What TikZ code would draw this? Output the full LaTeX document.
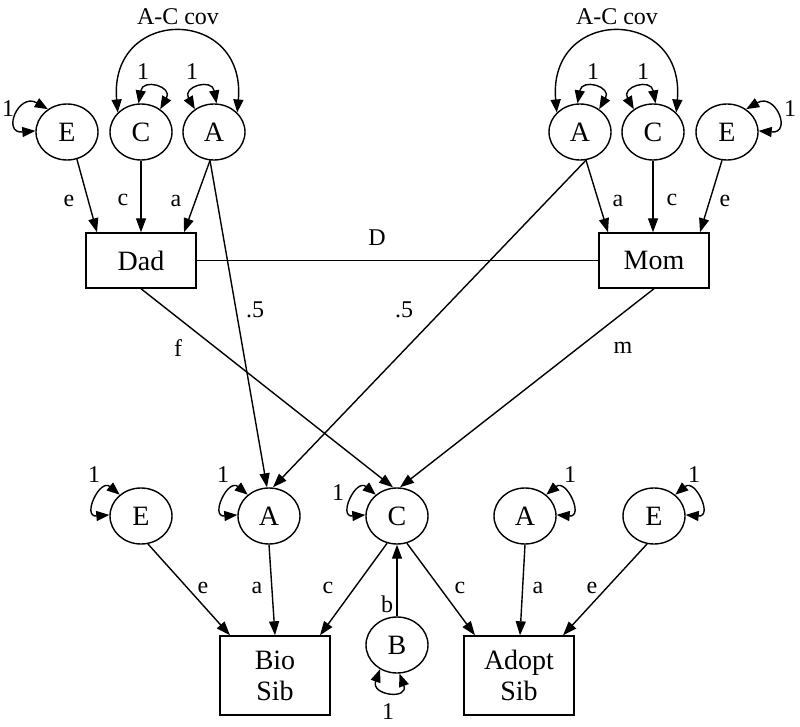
\documentclass[tikz,border=0pt]{standalone}
\usepackage{fontspec}
\setmainfont{Liberation Serif}
\usetikzlibrary{shapes.geometric,arrows.meta}
\begin{document}
\begin{tikzpicture}[x=1pt,y=1pt,
  lat/.style={ellipse,draw,line width=1.4pt,minimum width=62pt,minimum height=56pt,inner sep=0pt,font=\fontsize{28}{31}\selectfont},
  obs/.style={rectangle,draw,line width=1.4pt,minimum width=110pt,minimum height=55pt,inner sep=0pt,align=center,font=\fontsize{28}{31}\selectfont},
  sib/.style={obs,minimum height=79pt},
  lbl/.style={inner sep=0pt,font=\fontsize{24}{27}\selectfont},
  arr/.style={-{Triangle[length=14pt,width=10pt]},line width=1.4pt},
  dbl/.style={{Triangle[length=13pt,width=10pt]}-{Triangle[length=13pt,width=10pt]},line width=1.4pt},
  ln/.style={line width=1.4pt}
]
\useasboundingbox (0,0) rectangle (800,-727);

% parent latent variables
\node[lat] (eTL) at (67,-132) {E};
\node[lat] (cTL) at (141,-132) {C};
\node[lat] (aTL) at (214,-132) {A};
\node[lat] (aTR) at (580,-132) {A};
\node[lat] (cTR) at (653,-132) {C};
\node[lat] (eTR) at (727,-132) {E};

% parents
\node[obs] (dad) at (141,-260.5) {Dad};
\node[obs] (mom) at (654,-260.5) {Mom};

% sibling latent variables
\node[lat] (eB) at (141,-516) {E};
\node[lat] (aB) at (269,-516) {A};
\node[lat] (cB) at (397,-516) {C};
\node[lat] (aA) at (525,-516) {A};
\node[lat] (eA) at (654,-516) {E};
\node[lat] (bB) at (397,-645) {B};

% siblings
\node[sib] (bio) at (275,-675.5) {Bio\\Sib};
\node[sib] (adopt) at (519,-675.5) {Adopt\\Sib};

% A-C covariances
\draw[dbl] (cTL.140) .. controls +(95:107) and +(85:107) .. (aTL.40);
\node[lbl] (covL) at (178,-17) {A-C cov};
\draw[dbl] (aTR.140) .. controls +(95:107) and +(85:107) .. (cTR.40);
\node[lbl] (covR) at (617,-17) {A-C cov};

% variance loops, top
\draw[dbl] (eTL.130) .. controls +(150:34) and +(185:34) .. (eTL.178);
\node[lbl] (vETL) at (8,-109) {1};
\draw[dbl] (cTL.95) .. controls +(80:26) and +(60:26) .. (cTL.50);
\node[lbl] (vCTL) at (143,-72) {1};
\draw[dbl] (aTL.130) .. controls +(120:26) and +(100:26) .. (aTL.85);
\node[lbl] (vATL) at (192,-72) {1};
\draw[dbl] (aTR.95) .. controls +(80:26) and +(60:26) .. (aTR.50);
\node[lbl] (vATR) at (593,-72) {1};
\draw[dbl] (cTR.130) .. controls +(120:26) and +(100:26) .. (cTR.85);
\node[lbl] (vCTR) at (643,-72) {1};
\draw[dbl] (eTR.50) .. controls +(30:34) and +(-5:34) .. (eTR.2);
\node[lbl] (vETR) at (790,-109) {1};

% variance loops, bottom
\draw[dbl] (eB.135) .. controls +(140:26) and +(185:28) .. (eB.178);
\node[lbl] (vEB) at (94,-475) {1};
\draw[dbl] (aB.135) .. controls +(140:26) and +(185:28) .. (aB.178);
\node[lbl] (vAB) at (223,-475) {1};
\draw[dbl] (cB.135) .. controls +(140:26) and +(185:28) .. (cB.178);
\node[lbl] (vCB) at (338,-493) {1};
\draw[dbl] (aA.45) .. controls +(40:26) and +(-5:28) .. (aA.2);
\node[lbl] (vAA) at (570,-475) {1};
\draw[dbl] (eA.45) .. controls +(40:26) and +(-5:28) .. (eA.2);
\node[lbl] (vEA) at (694,-475) {1};
\draw[dbl] (bB.235) .. controls +(250:28) and +(290:28) .. (bB.275);
\node[lbl] (vBB) at (388,-712) {1};

% parent paths
\draw[arr] (eTL.290) -- ([xshift=-44pt]dad.north);
\node[lbl] (le1) at (69,-201) {e};
\draw[arr] (cTL) -- (dad.north);
\node[lbl] (lc1) at (123,-200) {c};
\draw[arr] (aTL.262) -- ([xshift=43pt]dad.north);
\node[lbl] (la1) at (176,-201) {a};
\draw[arr] (aTR.282) -- ([xshift=-46pt]mom.north);
\node[lbl] (la2) at (618,-201) {a};
\draw[arr] (cTR) -- ([xshift=-1pt]mom.north);
\node[lbl] (lc2) at (672,-200) {c};
\draw[arr] (eTR.260) -- ([xshift=46pt]mom.north);
\node[lbl] (le2) at (725,-201) {e};

% assortative mating
\draw[ln] (dad) -- (mom);
\node[lbl] (lD) at (377,-238) {D};

% genetic transmission
\draw[arr] (aTL.262) -- ([xshift=-2pt]aB.north);
\node[lbl] (lh1) at (255,-310) {.5};
\draw[arr] (aTR.282) -- ([xshift=4pt]aB.north);
\node[lbl] (lh2) at (404,-310) {.5};

% cultural transmission
\draw[arr] (dad.south) -- ([xshift=-4pt]cB.north);
\node[lbl] (lf) at (178,-348) {f};
\draw[arr] (mom.south) -- ([xshift=3pt]cB.north);
\node[lbl] (lm) at (623,-348) {m};

% sibling paths
\draw[arr] (eB.284) -- ([xshift=-45pt]bio.north);
\node[lbl] (le3) at (203,-588) {e};
\draw[arr] (aB.south) -- (bio.north);
\node[lbl] (la3) at (257,-588) {a};
\draw[arr] (cB.250) -- ([xshift=45pt]bio.north);
\node[lbl] (lc3) at (328,-588) {c};
\draw[arr] (bB) -- (cB);
\node[lbl] (lb) at (387,-604) {b};
\draw[arr] (cB.290) -- ([xshift=-44pt]adopt.north);
\node[lbl] (lc4) at (460,-588) {c};
\draw[arr] (aA.south) -- ([xshift=1pt]adopt.north);
\node[lbl] (la4) at (538,-588) {a};
\draw[arr] (eA.256) -- ([xshift=44pt]adopt.north);
\node[lbl] (le4) at (592,-588) {e};
\end{tikzpicture}
\end{document}
